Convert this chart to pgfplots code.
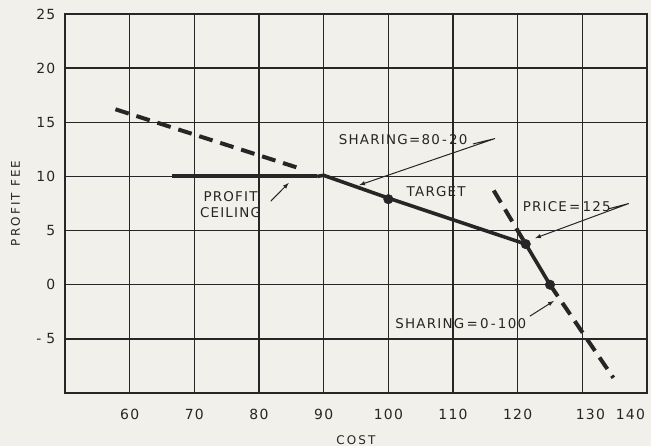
\documentclass[border=0pt]{standalone}
\usepackage{fontspec}
\setmainfont{DejaVu Sans}
\newfontfamily\lettering[LetterSpace=9]{DejaVu Sans}
\newfontfamily\widelettering[LetterSpace=18]{DejaVu Sans}
\usepackage{pgfplots}
\pgfplotsset{compat=1.18}
\definecolor{paper}{RGB}{241,240,234}
\definecolor{ink}{RGB}{38,38,38}
\begin{document}
\lettering\fontsize{13.5}{15.5}\selectfont
\begin{tikzpicture}
\path[use as bounding box, fill=paper] (-65bp,-53bp) rectangle (586bp,393bp);
\begin{axis}[
  at={(0,0)}, anchor=south west,
  scale only axis, width=582bp, height=379bp,
  xmin=50, xmax=140, ymin=-10, ymax=25,
  xtick={60,70,...,140}, ytick={-5,0,...,25},
  xticklabels={60,70,80,90,100,110,120,\hspace*{16bp}130,\makebox[0pt][r]{140\hspace*{2bp}}},
  yticklabels={-\hspace*{5bp}5,0,5,10,15,20,25},
  major tick length=0pt,
  grid=major,
  major grid style={ink, line width=1.4bp},
  axis line style={ink, line width=2.4bp},
  tick label style={ink, font=\lettering\fontsize{14}{16}\selectfont},
  xticklabel style={yshift=-11bp},
  yticklabel style={xshift=-5bp},
  xlabel={COST}, ylabel={PROFIT FEE},
  label style={ink, font=\widelettering\fontsize{12}{14}\selectfont},
  xlabel style={at={(axis description cs:0.5,-0.124)}, anchor=center},
  ylabel style={at={(axis description cs:-0.085,0.5)}, anchor=center},
  clip=false,
]
% dashed extensions
\addplot[ink, line width=4bp, dash pattern=on 14bp off 8bp] coordinates {(57.8,16.2) (86,10.8)};
\addplot[ink, line width=4bp, dash pattern=on 14bp off 8bp] coordinates {(116.3,8.7) (121.2,3.8)};
\addplot[ink, line width=4bp, dash pattern=on 14bp off 8bp] coordinates {(125,0) (134.8,-8.6)};
% profit ceiling
\addplot[ink, line width=4bp] coordinates {(66.5,10) (89,10)};
% sharing 80-20 and 0-100
\addplot[ink, line width=3.6bp] coordinates {(89,10) (90,10.1) (100,8) (121.25,3.75) (125,0)};
% points
\addplot[only marks, mark=*, mark size=4.8bp, ink] coordinates {(100,7.9) (121.25,3.75) (125,0)};
% annotations
\node[ink, align=center, inner sep=0pt] at (axis cs:75.6,7.4) {PROFIT\\CEILING};
\draw[ink, line width=1bp, -latex] (axis cs:81.8,7.7) -- (axis cs:84.6,9.4);
\node[ink, inner sep=0pt] at (axis cs:102.3,13.4) {SHARING=80\,-\,20};
\draw[ink, line width=1bp, -latex] (axis cs:113.1,13.0) -- (axis cs:116.5,13.5) -- (axis cs:95.5,9.2);
\node[ink, inner sep=0pt] at (axis cs:107.4,8.6) {TARGET};
\node[ink, inner sep=0pt] at (axis cs:127.6,7.2) {PRICE\,=\,125};
\draw[ink, line width=1bp, -latex] (axis cs:134.0,7.0) -- (axis cs:137.2,7.5) -- (axis cs:122.7,4.3);
\node[ink, inner sep=0pt] at (axis cs:111.2,-3.6) {SHARING\,=\,0\,-\,100};
\draw[ink, line width=1bp, -latex] (axis cs:121.9,-2.9) -- (axis cs:125.6,-1.5);
\end{axis}
\end{tikzpicture}
\end{document}
